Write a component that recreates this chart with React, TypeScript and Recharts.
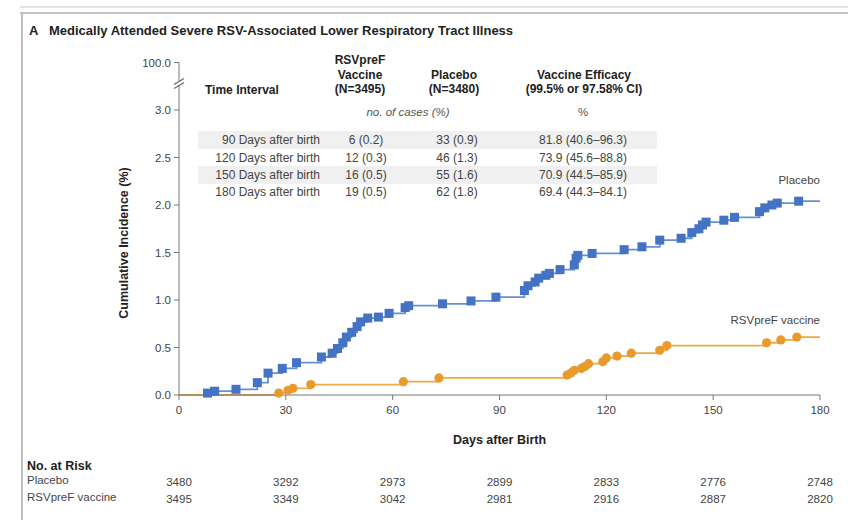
import { LineChart, Line, XAxis, YAxis, LabelList } from 'recharts';

const placeboDays = [0, 8, 10, 16, 22, 25, 29, 33, 40, 43, 44.5, 46, 47, 48.5, 50, 51, 53, 56, 59, 63.5, 64.5, 74, 82, 89, 97, 98, 100, 101, 103, 104, 107, 111, 111.5, 112, 116, 125, 130, 135, 141, 144, 146, 147, 148, 153, 156, 163, 164.5, 166.5, 168, 174, 180];
const placeboInc = [0, 0.02, 0.04, 0.06, 0.13, 0.23, 0.28, 0.34, 0.4, 0.44, 0.49, 0.55, 0.61, 0.66, 0.72, 0.77, 0.81, 0.82, 0.86, 0.92, 0.94, 0.96, 0.99, 1.03, 1.1, 1.15, 1.19, 1.23, 1.26, 1.28, 1.32, 1.37, 1.44, 1.47, 1.49, 1.53, 1.56, 1.63, 1.65, 1.71, 1.75, 1.79, 1.82, 1.84, 1.87, 1.93, 1.97, 2.0, 2.02, 2.04, 2.04];

const vaccineDays = [0, 28, 30.6, 32, 37, 63, 73, 109, 110, 111, 113, 114, 115, 119, 120, 123, 127, 135, 137, 165, 169, 173.5, 180];
const vaccineInc = [0, 0.02, 0.05, 0.07, 0.11, 0.14, 0.18, 0.21, 0.23, 0.26, 0.28, 0.3, 0.33, 0.35, 0.39, 0.41, 0.44, 0.47, 0.52, 0.55, 0.58, 0.61, 0.61];

const xTicks = [0, 30, 60, 90, 120, 150, 180];
const yTicks = [0, 0.5, 1, 1.5, 2, 2.5, 3, 3.5];
const placeboRisk = ['3480', '3292', '2973', '2899', '2833', '2776', '2748'];
const vaccineRisk = ['3495', '3349', '3042', '2981', '2916', '2887', '2820'];

const intervals = ['90 Days after birth', '120 Days after birth', '150 Days after birth', '180 Days after birth'];
const vaccineCases = ['6 (0.2)', '12 (0.3)', '16 (0.5)', '19 (0.5)'];
const placeboCases = ['33 (0.9)', '46 (1.3)', '55 (1.6)', '62 (1.8)'];
const efficacy = ['81.8 (40.6\u201396.3)', '73.9 (45.6\u201388.8)', '70.9 (44.5\u201385.9)', '69.4 (44.3\u201384.1)'];

const placeboData = placeboDays.map((d, i) => ({ day: d, inc: placeboInc[i] }));
const vaccineData = vaccineDays.map((d, i) => ({ day: d, inc: vaccineInc[i] }));

const FONT = "'Liberation Sans', Arial, sans-serif";
const BLUE = '#4472c4';
const BLUE_LINE = '#6590d4';
const ORANGE = '#e89a2c';
const ORANGE_LINE = '#eeaa44';
const TICK_FS = 11.5;

const SquareDot = (props: any) => {
  const { cx, cy, index } = props;
  if (index === 0 || index === placeboData.length - 1) return <g key={`p-${index}`} />;
  return <rect key={`p-${index}`} x={cx - 4.5} y={cy - 4.5} width={9} height={9} fill={BLUE} />;
};

const CircleDot = (props: any) => {
  const { cx, cy, index } = props;
  if (index === 0 || index === vaccineData.length - 1) return <g key={`v-${index}`} />;
  return <circle key={`v-${index}`} cx={cx} cy={cy} r={4.6} fill={ORANGE} />;
};

const XTick = (props: any) => {
  const { x, y, payload } = props;
  const i = xTicks.indexOf(payload.value);
  return (
    <g fontFamily={FONT} fontSize={TICK_FS} fill="#444">
      <text x={x} y={y} dy={12} textAnchor="middle">{payload.value}</text>
      <text x={x} y={y} dy={84} textAnchor="middle">{placeboRisk[i]}</text>
      <text x={x} y={y} dy={101} textAnchor="middle">{vaccineRisk[i]}</text>
    </g>
  );
};

const YTick = (props: any) => {
  const { x, y, payload } = props;
  const ax = x + 8;
  if (payload.value === 3.5) {
    const by = y + 21;
    return (
      <g>
        <text x={x} y={y} dy={4} textAnchor="end" fontFamily={FONT} fontSize={TICK_FS} fill="#444">100.0</text>
        <polygon points={`${ax - 5},${by + 1} ${ax + 5},${by - 5} ${ax + 5},${by - 1} ${ax - 5},${by + 5}`} fill="#fff" />
        <line x1={ax - 5} y1={by + 1} x2={ax + 5} y2={by - 5} stroke="#666" strokeWidth={1.2} />
        <line x1={ax - 5} y1={by + 5} x2={ax + 5} y2={by - 1} stroke="#666" strokeWidth={1.2} />
      </g>
    );
  }
  return (
    <text x={x} y={y} dy={4} textAnchor="end" fontFamily={FONT} fontSize={TICK_FS} fill="#444">
      {payload.value.toFixed(1)}
    </text>
  );
};

const endLabel = (text: string, len: number, dy: number) => (props: any) => {
  const { x, y, index } = props;
  if (index !== len - 1) return null;
  return (
    <text x={x} y={y + dy} textAnchor="end" fontFamily={FONT} fontSize={11.5} fill="#444">{text}</text>
  );
};

const T = ({ x, y, a = 'left', children, style }: any) => (
  <div
    style={{
      position: 'absolute',
      left: x,
      top: y,
      transform: `translate(${a === 'center' ? '-50%' : a === 'right' ? '-100%' : '0'}, -50%)`,
      whiteSpace: 'nowrap',
      lineHeight: 1,
      ...style,
    }}
  >
    {children}
  </div>
);

const bold = { fontWeight: 700, color: '#222', fontSize: 12 };
const cell = { color: '#444', fontSize: 12 };
const rowY = [140, 157.5, 174.5, 191.5];

export default function App() {
  return (
    <div style={{ position: 'relative', width: 848, height: 522, background: '#fff', fontFamily: FONT, fontSize: 12, overflow: 'hidden' }}>
      <style>{`body{margin:0}`}</style>
      {/* frame */}
      <div style={{ position: 'absolute', left: 20, top: 6, width: 828, height: 2, background: '#e2e2e2' }} />
      <div style={{ position: 'absolute', left: 20, top: 12, width: 828, height: 2, background: '#c4c4c4' }} />
      <div style={{ position: 'absolute', left: 21, top: 12, width: 2, height: 508, background: '#bdbdbd' }} />

      <T x={29} y={30} style={{ ...bold, fontSize: 13 }}>A</T>
      <T x={49} y={30} style={{ ...bold, fontSize: 13 }}>Medically Attended Severe RSV-Associated Lower Respiratory Tract Illness</T>

      {/* table */}
      <div style={{ position: 'absolute', left: 198, top: 131, width: 459, height: 18, background: '#f0f0f0' }} />
      <div style={{ position: 'absolute', left: 198, top: 166, width: 459, height: 18, background: '#f0f0f0' }} />
      <T x={205} y={90} style={bold}>Time Interval</T>
      <T x={360} y={60} a="center" style={bold}>RSVpreF</T>
      <T x={360} y={75} a="center" style={bold}>Vaccine</T>
      <T x={360} y={89} a="center" style={bold}>(N=3495)</T>
      <T x={454} y={75} a="center" style={bold}>Placebo</T>
      <T x={454} y={89} a="center" style={bold}>(N=3480)</T>
      <T x={584} y={75} a="center" style={bold}>Vaccine Efficacy</T>
      <T x={584} y={89} a="center" style={bold}>(99.5% or 97.58% CI)</T>
      <T x={408} y={113} a="center" style={{ fontStyle: 'italic', color: '#555', fontSize: 11.5 }}>no. of cases (%)</T>
      <T x={583} y={113} a="center" style={{ color: '#555', fontSize: 11.5 }}>%</T>
      {intervals.map((s, i) => (
        <div key={s}>
          <T x={320} y={rowY[i]} a="right" style={cell}>{s}</T>
          <T x={366} y={rowY[i]} a="center" style={cell}>{vaccineCases[i]}</T>
          <T x={457} y={rowY[i]} a="center" style={cell}>{placeboCases[i]}</T>
          <T x={583} y={rowY[i]} a="center" style={cell}>{efficacy[i]}</T>
        </div>
      ))}

      {/* y label */}
      <T x={124} y={243} a="center" style={{ ...bold, fontSize: 12.5, transform: 'translate(-50%, -50%) rotate(-90deg)' }}>Cumulative Incidence (%)</T>

      {/* at risk labels */}
      <T x={27} y={466} style={{ ...bold, fontSize: 12.5 }}>No. at Risk</T>
      <T x={27} y={481} style={{ color: '#444', fontSize: 11.5 }}>Placebo</T>
      <T x={27} y={498} style={{ color: '#444', fontSize: 11.5 }}>RSVpreF vaccine</T>

      <div style={{ position: 'absolute', left: 0, top: 0 }}>
        <LineChart width={848} height={522} margin={{ top: 62.5, right: 28, bottom: 0, left: 0 }}>
          <XAxis
            dataKey="day"
            type="number"
            domain={[0, 180]}
            ticks={xTicks}
            allowDuplicatedCategory={false}
            height={127}
            tickSize={5}
            tickMargin={2}
            stroke="#777"
            tick={<XTick />}
            label={{ value: 'Days after Birth', position: 'insideBottom', offset: 78, fontFamily: FONT, fontSize: 12.5, fontWeight: 700, fill: '#222' }}
          />
          <YAxis
            type="number"
            domain={[0, 3.5]}
            ticks={yTicks}
            width={179}
            tickSize={5}
            tickMargin={3}
            stroke="#777"
            tick={<YTick />}
            interval={0}
          />
          <Line
            data={placeboData}
            dataKey="inc"
            type="stepAfter"
            stroke={BLUE_LINE}
            strokeWidth={1.8}
            dot={SquareDot}
            activeDot={false}
            isAnimationActive={false}
          >
            <LabelList dataKey="inc" content={endLabel('Placebo', placeboData.length, -17)} />
          </Line>
          <Line
            data={vaccineData}
            dataKey="inc"
            type="stepAfter"
            stroke={ORANGE_LINE}
            strokeWidth={1.8}
            dot={CircleDot}
            activeDot={false}
            isAnimationActive={false}
          >
            <LabelList dataKey="inc" content={endLabel('RSVpreF vaccine', vaccineData.length, -13)} />
          </Line>
        </LineChart>
      </div>
    </div>
  );
}
